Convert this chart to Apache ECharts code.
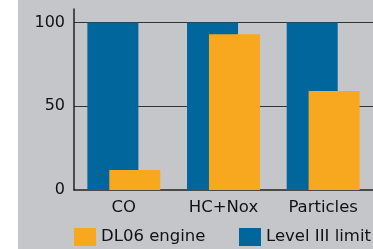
<!DOCTYPE html>
<html>
<head>
<meta charset="utf-8">
<script src="https://cdn.jsdelivr.net/npm/echarts@6/dist/echarts.min.js"></script>
<style>
  html, body { margin: 0; padding: 0; background: #fff; }
  #main { width: 373px; height: 249px; }
</style>
</head>
<body>
<div id="main"></div>
<script>
// data
var categories = ['CO', 'HC+Nox', 'Particles'];
var engineValues = [12, 93, 59];
var limitValues = [100, 100, 100];
var seriesNames = ['DL06 engine', 'Level III limit'];

var chart = echarts.init(document.getElementById('main'));

// one legend per item so the second one does not wrap onto a new row
var legendBase = {
    top: 228,
    padding: 0,
    itemWidth: 22,
    itemHeight: 18,
    icon: 'rect',
    textStyle: { color: '#111', fontSize: 16.5, fontFamily: 'DejaVu Sans' }
};

var option = {
    backgroundColor: '#c5c6ca',
    animation: false,
    textStyle: { fontFamily: 'DejaVu Sans' },
    graphic: [{
        type: 'rect',
        z: -10,
        shape: { x: 0, y: 0, width: 18, height: 249 },
        style: { fill: '#ffffff' }
    }],
    grid: { left: 74, top: 9, width: 301.5, height: 181, containLabel: false },
    legend: [
        Object.assign({ data: [seriesNames[0]], left: 74 }, legendBase),
        Object.assign({ data: [seriesNames[1]], left: 239, width: 200 }, legendBase)
    ],
    xAxis: {
        type: 'category',
        data: categories,
        axisLine: { lineStyle: { color: '#222', width: 1.5 } },
        axisTick: { show: false },
        axisLabel: { color: '#111', fontSize: 16.5, margin: 9 }
    },
    yAxis: {
        type: 'value',
        min: 0,
        max: 108,
        interval: 50,
        axisLine: { show: true, lineStyle: { color: '#222', width: 1.5 } },
        axisTick: { show: false },
        axisLabel: { color: '#111', fontSize: 16, margin: 9, showMaxLabel: false },
        splitLine: { show: true, showMinLine: false, showMaxLine: false, lineStyle: { color: '#333', width: 1.2 } }
    },
    series: [
        {
            name: seriesNames[1],
            type: 'bar',
            data: limitValues,
            barWidth: 51,
            barGap: '-57%',
            itemStyle: { color: '#00669c' }
        },
        {
            name: seriesNames[0],
            type: 'bar',
            data: engineValues,
            barWidth: 51,
            barGap: '-57%',
            itemStyle: { color: '#f8a81e' }
        }
    ]
};

chart.setOption(option);
</script>
</body>
</html>
